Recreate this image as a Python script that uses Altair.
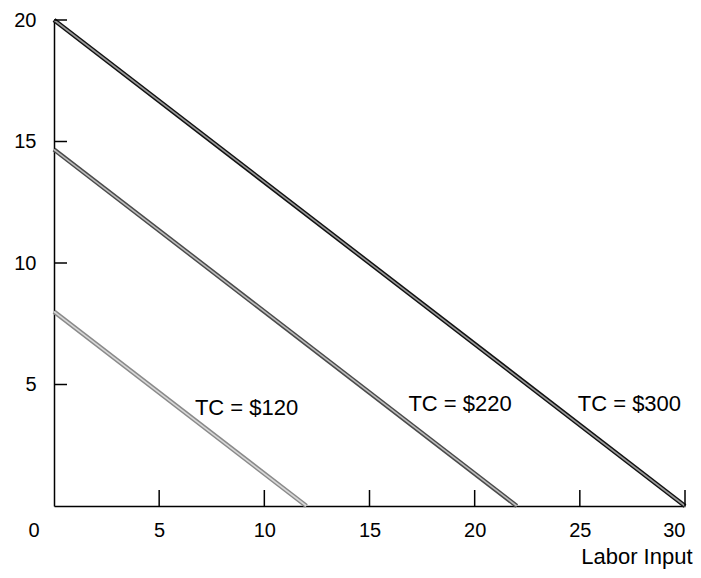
import altair as alt
import pandas as pd

# Isocost lines
series = ["TC = $120", "TC = $220", "TC = $300"]
labor_start = [0, 0, 0]
capital_start = [8, 14.67, 20]
labor_end = [12, 22, 30]
capital_end = [0, 0, 0]
outer_colors = ["#8a8a8a", "#4a4a4a", "#111111"]
inner_colors = ["#d8d8d8", "#bdbdbd", "#9a9a9a"]

label_x = [6.7, 16.85, 24.9]
label_y = [4.05, 4.2, 4.2]

x_ticks = [5, 10, 15, 20, 25, 30]
y_ticks = [5, 10, 15, 20]

FONT = "Liberation Sans"
W, H = 631, 486

lines = pd.DataFrame({
    "series": series, "x": labor_start, "y": capital_start,
    "x2": labor_end, "y2": capital_end,
    "outer": outer_colors, "inner": inner_colors,
})
labels = pd.DataFrame({"series": series, "x": label_x, "y": label_y})
xt = pd.DataFrame({"v": x_ticks})
yt = pd.DataFrame({"v": y_ticks})
origin = pd.DataFrame({"x": [0], "y": [0], "t": ["0"]})

xscale = alt.Scale(domain=[0, 30], nice=False, zero=True)
yscale = alt.Scale(domain=[0, 20], nice=False, zero=True)

xaxis = alt.Axis(values=x_ticks, ticks=False, grid=False, title="Labor Input",
                 labelFont=FONT, labelFontSize=20, labelColor="black", labelPadding=14,
                 labelFontWeight="normal",
                 domainColor="black", domainWidth=1.5,
                 titleFont=FONT, titleFontSize=22, titleFontWeight="normal", titleColor="black",
                 titleAnchor="end", titleAlign="right", titleBaseline="alphabetic",
                 titleX=638, titleY=57)
yaxis = alt.Axis(values=y_ticks, ticks=False, grid=False, title=None,
                 labelFont=FONT, labelFontSize=20, labelColor="black", labelPadding=18,
                 domainColor="black", domainWidth=1.5)

base = alt.Chart(lines)

outer = base.mark_rule(strokeWidth=4.5, strokeCap="butt").encode(
    x=alt.X("x:Q", scale=xscale, axis=xaxis),
    y=alt.Y("y:Q", scale=yscale, axis=yaxis),
    x2="x2:Q", y2="y2:Q",
    color=alt.Color("outer:N", scale=None),
)
inner = base.mark_rule(strokeWidth=1.6, strokeCap="butt").encode(
    x="x:Q", y="y:Q", x2="x2:Q", y2="y2:Q",
    color=alt.Color("inner:N", scale=None),
)

text = alt.Chart(labels).mark_text(font=FONT, fontSize=22, align="left",
                                    baseline="middle", color="black").encode(
    x="x:Q", y="y:Q", text="series:N")

xtick = alt.Chart(xt).mark_rule(color="black", strokeWidth=1.5).encode(
    x="v:Q", y=alt.value(H), y2=alt.value(H - 16))
ytick = alt.Chart(yt).mark_rule(color="black", strokeWidth=1.5).encode(
    y="v:Q", x=alt.value(0), x2=alt.value(13))

zero = alt.Chart(origin).mark_text(font=FONT, fontSize=20, align="center",
                                   baseline="middle", color="black", dx=-20, dy=25).encode(
    x="x:Q", y="y:Q", text="t:N")

chart = alt.layer(outer, inner, text, xtick, ytick, zero).properties(
    width=W, height=H,
    autosize=alt.AutoSizeParams(type="none"),
    padding={"left": 46, "top": 12, "right": 8, "bottom": 64},
    background="white",
).configure_view(stroke=None)

chart.save("out.html", embed_options={"renderer": "svg", "actions": False})
